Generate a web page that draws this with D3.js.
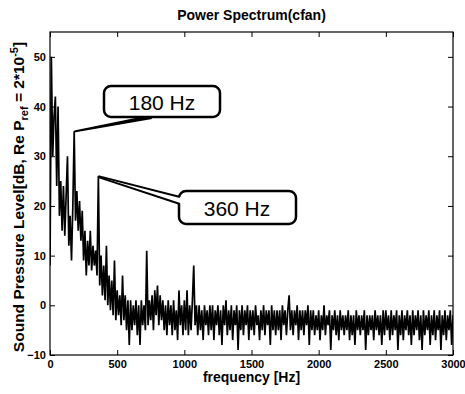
<!DOCTYPE html>
<html>
<head>
<meta charset="utf-8">
<script src="https://cdn.jsdelivr.net/npm/d3@7"></script>
<style>
	body { margin: 0; background: #fff; }
	text { font-family: "Liberation Sans", Arial, sans-serif; fill: #000; }
</style>
</head>
<body>
<svg id="chart" width="465" height="394"></svg>
<script>
// spectrum, one value every 10 Hz from 0 to 3000 Hz (dB)
var freqStep = 10;
var level = [
	8, 50, 30, 38, 42, 24, 40, 18, 25, 15,
	24, 14, 22, 30, 12, 18, 9, 20, 35, 17,
	23, 15, 21, 13, 19, 9, 15, 6, 13, 8,
	15, 7, 12, 8, 11, 6, 26, 4, 10, 2,
	8, 1, 12, 0, 6, -1, 5, -2, 9, -3,
	3, -2, 2, -4, 6, -3, 2, -5, 1, -8,
	1, -5, 0, -4, 1, -6, 0, -8, 1, -4,
	0, -5, 11, -4, 1, -3, 2, -5, 3, -2,
	4, -4, 2, -3, 1, -5, 0, -6, 1, -4,
	0, -6, 1, -5, -1, -7, 3, -4, 0, -6,
	1, -5, 3, -6, 0, -5, 1, 8, -4, 0,
	-6, 0, -5, -1, -7, 0, -4, -1, -6, 0,
	-5, 0, -7, -1, -4, 0, -6, -1, -8, 0,
	-4, 1, -6, -1, -5, 0, -7, -1, -4, 0,
	-9, -1, -5, 0, -6, -1, -4, 0, -7, -1,
	-5, -1, -6, 0, -4, -2, -7, -1, -5, 0,
	-6, -1, -4, -1, -8, 0, -5, -1, -6, -1,
	-5, -1, -7, 0, -4, -1, -6, -1, 2, -5,
	-1, -6, -1, -4, 0, -7, -1, -5, -1, -6,
	-1, -4, 0, -8, -1, -5, -1, -6, -2, -5,
	-1, -7, -2, -5, 0, -6, -2, -4, -1, -9,
	-2, -5, -1, -6, -2, -7, -1, -5, -2, -6,
	-2, -5, -1, -7, -2, -6, -2, -8, -1, -5,
	-2, -6, -2, -5, -1, -9, -2, -6, -2, -5,
	-2, -7, -1, -5, -2, -6, -2, -8, -1, -6,
	-1, -5, -2, -7, -1, -6, -2, -5, -1, -9,
	-2, -6, -1, -7, -2, -5, -1, -6, -2, -8,
	-1, -6, -2, -5, -1, -7, -2, -9, -1, -6,
	-2, -5, -1, -8, -2, -6, -1, -7, -2, -5,
	-1, -9, -2, -6, -1, -7, -2, -5, -1, -8,
	-2
];

var xTicks = [0, 500, 1000, 1500, 2000, 2500, 3000];
var yTicks = [-10, 0, 10, 20, 30, 40, 50];

// callouts: label, peak frequency, peak level
var calloutLabels = ['180 Hz', '360 Hz'];
var calloutFreqs = [180, 360];
var calloutLevels = [35, 26];

var svg = d3.select('#chart');
var plotL = 50, plotR = 453, plotT = 32, plotB = 355;

var x = d3.scaleLinear().domain([0, 3000]).range([plotL, plotR]);
var y = d3.scaleLinear().domain([-10, 55]).range([plotB, plotT]);

svg.append('rect').attr('width', 465).attr('height', 394).attr('fill', '#fff');

svg.append('clipPath').attr('id', 'plot')
	.append('rect').attr('x', plotL).attr('y', plotT)
	.attr('width', plotR - plotL).attr('height', plotB - plotT);

var line = d3.line()
	.x(function(d, i) {return x(i * freqStep)})
	.y(function(d) {return y(d)});

svg.append('path')
	.datum(level)
	.attr('clip-path', 'url(#plot)')
	.attr('fill', 'none')
	.attr('stroke', '#000')
	.attr('stroke-width', 1.7)
	.attr('stroke-linejoin', 'miter')
	.attr('d', line);

// axes, matlab style: ticks inside on all four sides
function styleAxis(g) {
	g.select('.domain').remove();
	g.selectAll('line').attr('stroke', '#000');
	g.selectAll('text')
		.style('font-size', '11px')
		.style('font-weight', 'bold');
}

svg.append('g')
	.attr('transform', 'translate(0,' + plotB + ')')
	.call(d3.axisBottom(x).tickValues(xTicks).tickSize(-5).tickPadding(5).tickFormat(d3.format('d')))
	.call(styleAxis);
svg.append('g')
	.attr('transform', 'translate(0,' + plotT + ')')
	.call(d3.axisTop(x).tickValues(xTicks).tickSize(-5).tickFormat(''))
	.call(styleAxis);
svg.append('g')
	.attr('transform', 'translate(' + plotL + ',0)')
	.call(d3.axisLeft(y).tickValues(yTicks).tickSize(-5).tickPadding(4).tickFormat(d3.format('d')))
	.call(styleAxis);
svg.append('g')
	.attr('transform', 'translate(' + plotR + ',0)')
	.call(d3.axisRight(y).tickValues(yTicks).tickSize(-5).tickFormat(''))
	.call(styleAxis);

svg.append('rect')
	.attr('x', plotL).attr('y', plotT)
	.attr('width', plotR - plotL).attr('height', plotB - plotT)
	.attr('fill', 'none').attr('stroke', '#000').attr('stroke-width', 1.2);

svg.append('text')
	.attr('x', (plotL + plotR) / 2).attr('y', 20)
	.attr('text-anchor', 'middle')
	.style('font-size', '14px').style('font-weight', 'bold')
	.text('Power Spectrum(cfan)');

svg.append('text')
	.attr('x', (plotL + plotR) / 2).attr('y', 382)
	.attr('text-anchor', 'middle')
	.style('font-size', '14px').style('font-weight', 'bold')
	.text('frequency [Hz]');

var ylab = svg.append('text')
	.attr('transform', 'translate(24,197) rotate(-90)')
	.attr('text-anchor', 'middle')
	.style('font-size', '15.5px').style('font-weight', 'bold');
ylab.append('tspan').text('Sound Pressure Level[dB, Re P');
ylab.append('tspan').attr('dy', 4).style('font-size', '11px').text('ref');
ylab.append('tspan').attr('dy', -4).text(' = 2*10');
ylab.append('tspan').attr('dy', -6).style('font-size', '11px').text('-5');
ylab.append('tspan').attr('dy', 6).text(']');

// 180 Hz callout: thick wedge from the peak to the box
var p1x = x(calloutFreqs[0]), p1y = y(calloutLevels[0]);
svg.append('path')
	.attr('d', 'M' + p1x + ',' + (p1y - 1) + 'L150,115L152,119L' + p1x + ',' + (p1y + 1) + 'Z')
	.attr('fill', '#000');
svg.append('rect')
	.attr('x', 104).attr('y', 86).attr('width', 116).attr('height', 31)
	.attr('rx', 7)
	.attr('fill', '#fff').attr('stroke', '#000').attr('stroke-width', 2.5);
svg.append('text')
	.attr('x', 162).attr('y', 110)
	.attr('text-anchor', 'middle')
	.style('font-size', '21px')
	.text(calloutLabels[0]);

// 360 Hz callout: two thin lines from the peak into the box
var p2x = x(calloutFreqs[1]), p2y = y(calloutLevels[1]);
svg.append('rect')
	.attr('x', 179).attr('y', 191).attr('width', 117).attr('height', 33)
	.attr('rx', 7)
	.attr('fill', '#fff').attr('stroke', '#000').attr('stroke-width', 2.5);
svg.append('rect')
	.attr('x', 177).attr('y', 197).attr('width', 5).attr('height', 7)
	.attr('fill', '#fff');
svg.append('line')
	.attr('x1', p2x).attr('y1', p2y).attr('x2', 180).attr('y2', 197)
	.attr('stroke', '#000').attr('stroke-width', 2);
svg.append('line')
	.attr('x1', p2x).attr('y1', p2y + 1).attr('x2', 180).attr('y2', 204)
	.attr('stroke', '#000').attr('stroke-width', 2);
svg.append('text')
	.attr('x', 237).attr('y', 216)
	.attr('text-anchor', 'middle')
	.style('font-size', '21px')
	.text(calloutLabels[1]);
</script>
</body>
</html>
